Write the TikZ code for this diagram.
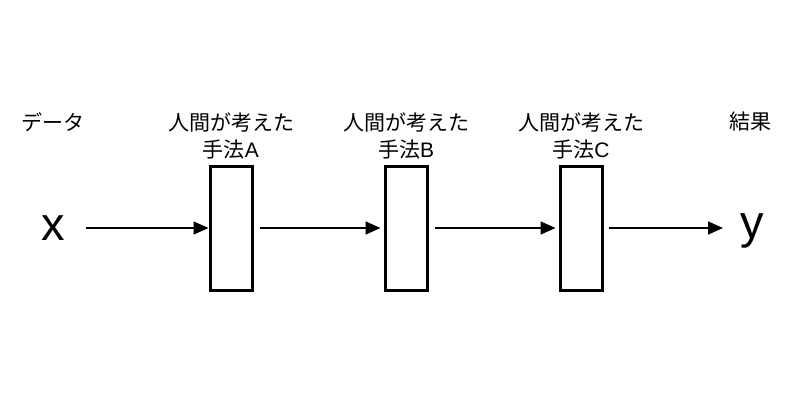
\documentclass[tikz,border=0pt]{standalone}
\usepackage{fontspec}
\setmainfont{Liberation Sans}
\newfontfamily\cjk{Noto Sans CJK JP}
\usetikzlibrary{arrows.meta}
\begin{document}
\begin{tikzpicture}[x=1pt,y=-1pt,
  proc/.style={draw,line width=3pt,minimum width=42pt,minimum height=124pt,inner sep=0pt},
  lbl/.style={font=\fontsize{21}{25}\selectfont,inner sep=0pt,anchor=center},
  big/.style={font=\fontsize{47}{50}\selectfont,inner sep=0pt},
  conn/.style={line width=1.5pt,-{Triangle[length=15pt,width=13pt]}}]
\useasboundingbox[fill=white] (0,0) rectangle (800,400);
\node[proc] (A) at (231,228) {};
\node[proc] (B) at (406,228) {};
\node[proc] (C) at (581,228) {};
\node[big,anchor=center] (x) at (53,228) {x};
\node[big,anchor=center] (y) at (752,231) {y};
\coordinate (xs) at (86,228);
\coordinate (ye) at (723,228);
\node[lbl] (d) at (53,122) {\cjk データ};
\node[lbl] (r) at (750,122) {\cjk 結果};
\node[lbl] (a1) at (231,122) {\cjk 人間が考えた};
\node[lbl] (a2) at (231,150) {{\cjk 手法}A};
\node[lbl] (b1) at (406,122) {\cjk 人間が考えた};
\node[lbl] (b2) at (406,150) {{\cjk 手法}B};
\node[lbl] (c1) at (581,122) {\cjk 人間が考えた};
\node[lbl] (c2) at (581,150) {{\cjk 手法}C};
\draw[conn] (xs) -- (A.west);
\draw[conn] ([xshift=6pt]A.east) -- ([xshift=-3pt]B.west);
\draw[conn] ([xshift=6pt]B.east) -- ([xshift=-3pt]C.west);
\draw[conn] ([xshift=5pt]C.east) -- (ye);
\end{tikzpicture}
\end{document}
